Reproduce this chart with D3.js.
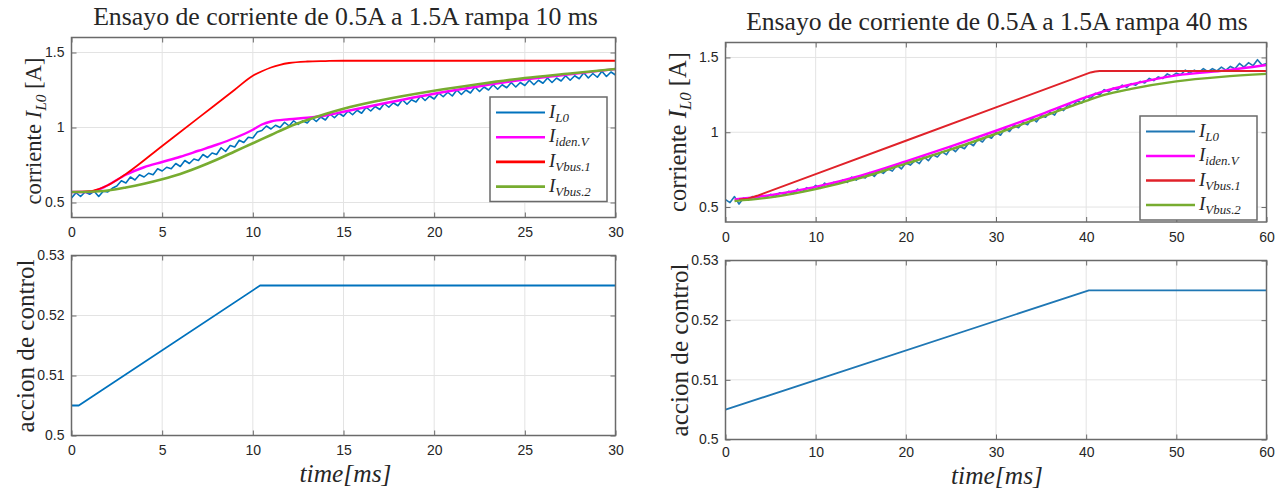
<!DOCTYPE html>
<html>
<head>
<meta charset="utf-8">
<script src="https://cdn.jsdelivr.net/npm/d3@7"></script>
<style>
  body { margin: 0; background: #fff; }
  svg text { font-family: "Liberation Serif", serif; fill: #262626; }
  .tick text { font-family: "Liberation Sans", Arial, sans-serif; font-size: 14px; fill: #262626; }
</style>
</head>
<body>
<script>
// ---------- data ----------
// left: ramp 10 ms, 0..30 ms
const leftCurrentT = d3.range(0, 30.001, 0.25);
const leftCurrent = [
  0.53, 0.565, 0.54, 0.57, 0.555, 0.575, 0.54, 0.575, 0.57, 0.595, 0.61, 0.645,
  0.63, 0.67, 0.65, 0.685, 0.67, 0.695, 0.685, 0.725, 0.71, 0.735, 0.725, 0.76,
  0.74, 0.78, 0.76, 0.79, 0.78, 0.82, 0.80, 0.83, 0.82, 0.865, 0.84, 0.88,
  0.87, 0.915, 0.90, 0.935, 0.93, 0.97, 0.98, 1.01, 0.99, 1.015, 1.0, 1.035,
  1.01, 1.045, 1.02, 1.045, 1.03, 1.065, 1.04, 1.07, 1.05, 1.09, 1.065, 1.095,
  1.075, 1.11, 1.085, 1.115, 1.095, 1.135, 1.11, 1.14, 1.12, 1.16, 1.135, 1.165,
  1.145, 1.185, 1.155, 1.185, 1.17, 1.21, 1.18, 1.21, 1.19, 1.23, 1.205, 1.235,
  1.21, 1.25, 1.22, 1.25, 1.23, 1.27, 1.24, 1.27, 1.25, 1.285, 1.255, 1.285,
  1.265, 1.30, 1.27, 1.30, 1.28, 1.315, 1.285, 1.315, 1.295, 1.33, 1.30, 1.33,
  1.31, 1.345, 1.315, 1.345, 1.325, 1.365, 1.33, 1.36, 1.335, 1.375, 1.34, 1.37, 1.35
];
const leftIdenT = [0, 1, 2, 3, 4, 5, 6, 7, 8, 9, 10, 10.5, 11, 12, 13, 14, 15, 17, 20, 22.5, 25, 27.5, 30];
const leftIden = [0.57, 0.57, 0.615, 0.685, 0.735, 0.77, 0.805, 0.845, 0.885, 0.93, 0.985, 1.02, 1.04, 1.055, 1.065, 1.08, 1.105, 1.155, 1.225, 1.275, 1.32, 1.355, 1.39];
const leftBus1T = [0, 1, 1.5, 2, 2.5, 3, 5, 7, 9, 10, 10.5, 11, 11.5, 12, 13, 14, 15, 30];
const leftBus1 = [0.57, 0.575, 0.59, 0.615, 0.65, 0.69, 0.877, 1.064, 1.252, 1.345, 1.375, 1.40, 1.418, 1.43, 1.44, 1.443, 1.445, 1.445];
const leftBus2T = [0, 1, 2, 3, 4, 5, 6, 7, 8, 9, 10, 11, 12, 13, 14, 15, 17, 20, 22.5, 25, 27.5, 30];
const leftBus2 = [0.57, 0.572, 0.58, 0.60, 0.625, 0.655, 0.69, 0.735, 0.785, 0.84, 0.895, 0.95, 1.005, 1.05, 1.09, 1.125, 1.18, 1.245, 1.29, 1.33, 1.36, 1.39];
const leftCtrlT = [0, 0.4, 10.4, 30];
const leftCtrl = [0.505, 0.505, 0.525, 0.525];

// right: ramp 40 ms, 0..60 ms
const rightCurrentT = d3.range(0, 60.001, 0.5);
const rightCurrent = [
  0.55, 0.53, 0.57, 0.52, 0.56, 0.545, 0.57, 0.555, 0.58, 0.565, 0.585, 0.57,
  0.595, 0.585, 0.605, 0.59, 0.62, 0.60, 0.63, 0.615, 0.645, 0.625, 0.66, 0.64,
  0.665, 0.655, 0.68, 0.665, 0.70, 0.68, 0.705, 0.695, 0.73, 0.705, 0.74, 0.725,
  0.755, 0.74, 0.78, 0.755, 0.795, 0.78, 0.81, 0.79, 0.835, 0.81, 0.85, 0.835,
  0.87, 0.85, 0.895, 0.87, 0.905, 0.89, 0.93, 0.91, 0.955, 0.935, 0.975, 0.96,
  1.0, 0.98, 1.025, 1.005, 1.045, 1.03, 1.065, 1.05, 1.095, 1.07, 1.11, 1.1,
  1.135, 1.115, 1.165, 1.145, 1.185, 1.175, 1.21, 1.195, 1.24, 1.225, 1.26, 1.25,
  1.285, 1.27, 1.295, 1.285, 1.315, 1.30, 1.325, 1.315, 1.34, 1.33, 1.36, 1.345,
  1.37, 1.36, 1.39, 1.375, 1.395, 1.385, 1.415, 1.395, 1.415, 1.40, 1.425, 1.405,
  1.425, 1.41, 1.435, 1.415, 1.44, 1.425, 1.46, 1.435, 1.465, 1.445, 1.485, 1.45, 1.46
];
const rightIdenT = [1, 5, 10, 15, 20, 25, 30, 35, 40, 42, 45, 50, 55, 60];
const rightIden = [0.55, 0.58, 0.635, 0.71, 0.805, 0.905, 1.01, 1.12, 1.235, 1.275, 1.32, 1.38, 1.41, 1.45];
const rightBus1T = [1.5, 2.5, 3.5, 10, 20, 30, 40.5, 41, 41.5, 42.5, 60];
const rightBus1 = [0.55, 0.556, 0.575, 0.72, 0.943, 1.166, 1.40, 1.406, 1.409, 1.41, 1.41];
const rightBus2T = [1, 5, 10, 15, 20, 25, 30, 35, 40, 42, 45, 50, 55, 60];
const rightBus2 = [0.54, 0.565, 0.62, 0.695, 0.79, 0.885, 0.99, 1.10, 1.21, 1.25, 1.29, 1.34, 1.37, 1.39];
const rightCtrlT = [0, 40.3, 60];
const rightCtrl = [0.505, 0.525, 0.525];

const leftXTicks = [0, 5, 10, 15, 20, 25, 30];
const rightXTicks = [0, 10, 20, 30, 40, 50, 60];
const currentYTicks = [0.5, 1, 1.5];
const ctrlYTicks = [0.5, 0.51, 0.52, 0.53];

const titles = ["Ensayo de corriente de 0.5A a 1.5A rampa 10 ms", "Ensayo de corriente de 0.5A a 1.5A rampa 40 ms"];
const seriesNames = ["L0", "iden.V", "Vbus.1", "Vbus.2"];
const seriesColors = ["#0072BD", "#FF00FF", "#FF0000", "#77AC30"];

// ---------- drawing ----------
const svg = d3.select("body").append("svg").attr("width", 1283).attr("height", 491);
const zip = (ts, vs) => ts.map((t, i) => [t, vs[i]]);
let clipId = 0;

// scale font-size so the text gets the wanted length
function fit(sel, len) {
  const cur = sel.node().getComputedTextLength();
  const fs = parseFloat(sel.attr("font-size"));
  sel.attr("font-size", fs * len / cur);
}

// italic "I" with an italic subscript; returns the shift to undo afterwards
function richI(sel, sub, size) {
  sel.append("tspan").attr("font-style", "italic").attr("font-size", size).text("I");
  sel.append("tspan").attr("font-style", "italic").attr("font-size", size * 0.68)
    .attr("dy", size * 0.22).text(sub);
  return size * 0.22;
}

function axes(box, xDom, yDom, xTicks, yTicks, pad) {
  const x = d3.scaleLinear().domain(xDom).range([box.l, box.r]);
  const y = d3.scaleLinear().domain(yDom).range([box.b, box.t]);
  const g = svg.append("g");
  g.append("rect").attr("x", box.l).attr("y", box.t).attr("width", box.r - box.l)
    .attr("height", box.b - box.t).attr("fill", "#fff");

  // grid
  g.selectAll(".gx").data(xTicks).enter().append("line")
    .attr("x1", d => x(d)).attr("x2", d => x(d)).attr("y1", box.t).attr("y2", box.b)
    .attr("stroke", "#e3e3e3").attr("stroke-width", 1);
  g.selectAll(".gy").data(yTicks).enter().append("line")
    .attr("y1", d => y(d)).attr("y2", d => y(d)).attr("x1", box.l).attr("x2", box.r)
    .attr("stroke", "#e3e3e3").attr("stroke-width", 1);

  const id = "clip" + (clipId++);
  svg.append("clipPath").attr("id", id).append("rect")
    .attr("x", box.l).attr("y", box.t).attr("width", box.r - box.l).attr("height", box.b - box.t);
  const plot = svg.append("g").attr("clip-path", "url(#" + id + ")");

  const frame = svg.append("g");
  const ax = (gen, tr, labels) => {
    const s = frame.append("g").attr("transform", tr).call(gen);
    s.select(".domain").remove();
    s.selectAll(".tick line").attr("stroke", "#6a6a6a");
    if (!labels) s.selectAll(".tick text").remove();
  };
  ax(d3.axisBottom(x).tickValues(xTicks).tickSize(-5).tickPadding(pad || 10).tickFormat(d3.format("")), `translate(0,${box.b})`, true);
  ax(d3.axisTop(x).tickValues(xTicks).tickSize(-5), `translate(0,${box.t})`, false);
  ax(d3.axisLeft(y).tickValues(yTicks).tickSize(-5).tickPadding(7).tickFormat(d3.format("")), `translate(${box.l},0)`, true);
  ax(d3.axisRight(y).tickValues(yTicks).tickSize(-5), `translate(${box.r},0)`, false);
  frame.append("rect").attr("x", box.l).attr("y", box.t).attr("width", box.r - box.l)
    .attr("height", box.b - box.t).attr("fill", "none").attr("stroke", "#6a6a6a").attr("stroke-width", 1.5);
  return { x, y, plot };
}

function drawLine(a, pts, color, w, curve) {
  const line = d3.line().x(d => a.x(d[0])).y(d => a.y(d[1])).curve(curve || d3.curveLinear);
  a.plot.append("path").datum(pts).attr("d", line).attr("fill", "none")
    .attr("stroke", color).attr("stroke-width", w).attr("stroke-linejoin", "round");
}

function legend(box, colors) {
  const g = svg.append("g");
  g.append("rect").attr("x", box.l).attr("y", box.t).attr("width", box.r - box.l)
    .attr("height", box.b - box.t).attr("fill", "#fff").attr("stroke", "#6a6a6a").attr("stroke-width", 1.5);
  seriesNames.forEach((n, i) => {
    const cy = box.t + 15.5 + i * box.step;
    g.append("line").attr("x1", box.l + 6).attr("x2", box.l + 55).attr("y1", cy).attr("y2", cy)
      .attr("stroke", colors[i]).attr("stroke-width", i === 0 ? 2 : 2.6);
    const t = g.append("text").attr("x", box.l + 59).attr("y", cy + 5).attr("font-size", 19);
    richI(t, n, 19);
  });
}

function textAt(str, x, y, size, len, rot, italic) {
  const t = svg.append("text").attr("x", 0).attr("y", 0).attr("font-size", size)
    .attr("text-anchor", "middle")
    .attr("transform", `translate(${x},${y})` + (rot ? " rotate(-90)" : ""))
    .text(str);
  if (italic) t.attr("font-style", "italic");
  if (len) fit(t, len);
  return t;
}

function currentLabel(x, y, len) {
  const t = svg.append("text").attr("font-size", 21).attr("text-anchor", "middle")
    .attr("transform", `translate(${x},${y}) rotate(-90)`);
  t.append("tspan").attr("font-size", 21).text("corriente ");
  const shift = richI(t, "L0", 21);
  t.append("tspan").attr("font-size", 21).attr("dy", -shift).text(" [A]");
  const k = len / t.node().getComputedTextLength();
  t.selectAll("tspan").each(function () {
    const s = d3.select(this);
    s.attr("font-size", parseFloat(s.attr("font-size")) * k);
    if (s.attr("dy")) s.attr("dy", parseFloat(s.attr("dy")) * k);
  });
  t.attr("font-size", 21 * k);
}

// ----- left column -----
const boxLT = { l: 71.5, r: 615.5, t: 37.5, b: 217.5 };
const aLT = axes(boxLT, [0, 30], [0.4, 1.6], leftXTicks, currentYTicks);
drawLine(aLT, zip(leftCurrentT, leftCurrent), seriesColors[0], 1.6);
drawLine(aLT, zip(leftIdenT, leftIden), seriesColors[1], 2.4, d3.curveMonotoneX);
drawLine(aLT, zip(leftBus1T, leftBus1), seriesColors[2], 1.8, d3.curveMonotoneX);
drawLine(aLT, zip(leftBus2T, leftBus2), seriesColors[3], 2.6, d3.curveMonotoneX);
legend({ l: 490, r: 607, t: 97, b: 201.5, step: 24.7 }, seriesColors);

const boxLB = { l: 71.5, r: 615.5, t: 255.5, b: 435.5 };
const aLB = axes(boxLB, [0, 30], [0.5, 0.53], leftXTicks, ctrlYTicks);
drawLine(aLB, zip(leftCtrlT, leftCtrl), seriesColors[0], 1.8);

// ----- right column -----
const rightColors = ["#1f77b4", "#FF00FF", "#E0222A", "#77AC30"];
const boxRT = { l: 725.5, r: 1266.5, t: 42.5, b: 222 };
const aRT = axes(boxRT, [0, 60], [0.4, 1.6], rightXTicks, currentYTicks);
drawLine(aRT, zip(rightCurrentT, rightCurrent), rightColors[0], 1.6);
drawLine(aRT, zip(rightIdenT, rightIden), rightColors[1], 2.4, d3.curveMonotoneX);
drawLine(aRT, zip(rightBus1T, rightBus1), rightColors[2], 2, d3.curveLinear);
drawLine(aRT, zip(rightBus2T, rightBus2), rightColors[3], 2.4, d3.curveMonotoneX);
legend({ l: 1140, r: 1257, t: 116, b: 220, step: 24.5 }, rightColors);

const boxRB = { l: 725.5, r: 1266.5, t: 260.5, b: 439.5 };
const aRB = axes(boxRB, [0, 60], [0.5, 0.53], rightXTicks, ctrlYTicks, 8);
drawLine(aRB, zip(rightCtrlT, rightCtrl), rightColors[0], 1.8);

// ----- titles and labels -----
textAt(titles[0], 345.5, 25, 22, 505);
textAt(titles[1], 997, 30, 22, 502);
currentLabel(41, 131, 147);
currentLabel(686, 132, 160);
textAt("accion de control", 34, 346, 21, 173, true);
textAt("accion de control", 688, 350, 21, 173, true);
textAt("time[ms]", 345.5, 482, 22, 92, false, true);
textAt("time[ms]", 997, 484, 22, 92, false, true);
</script>
</body>
</html>
